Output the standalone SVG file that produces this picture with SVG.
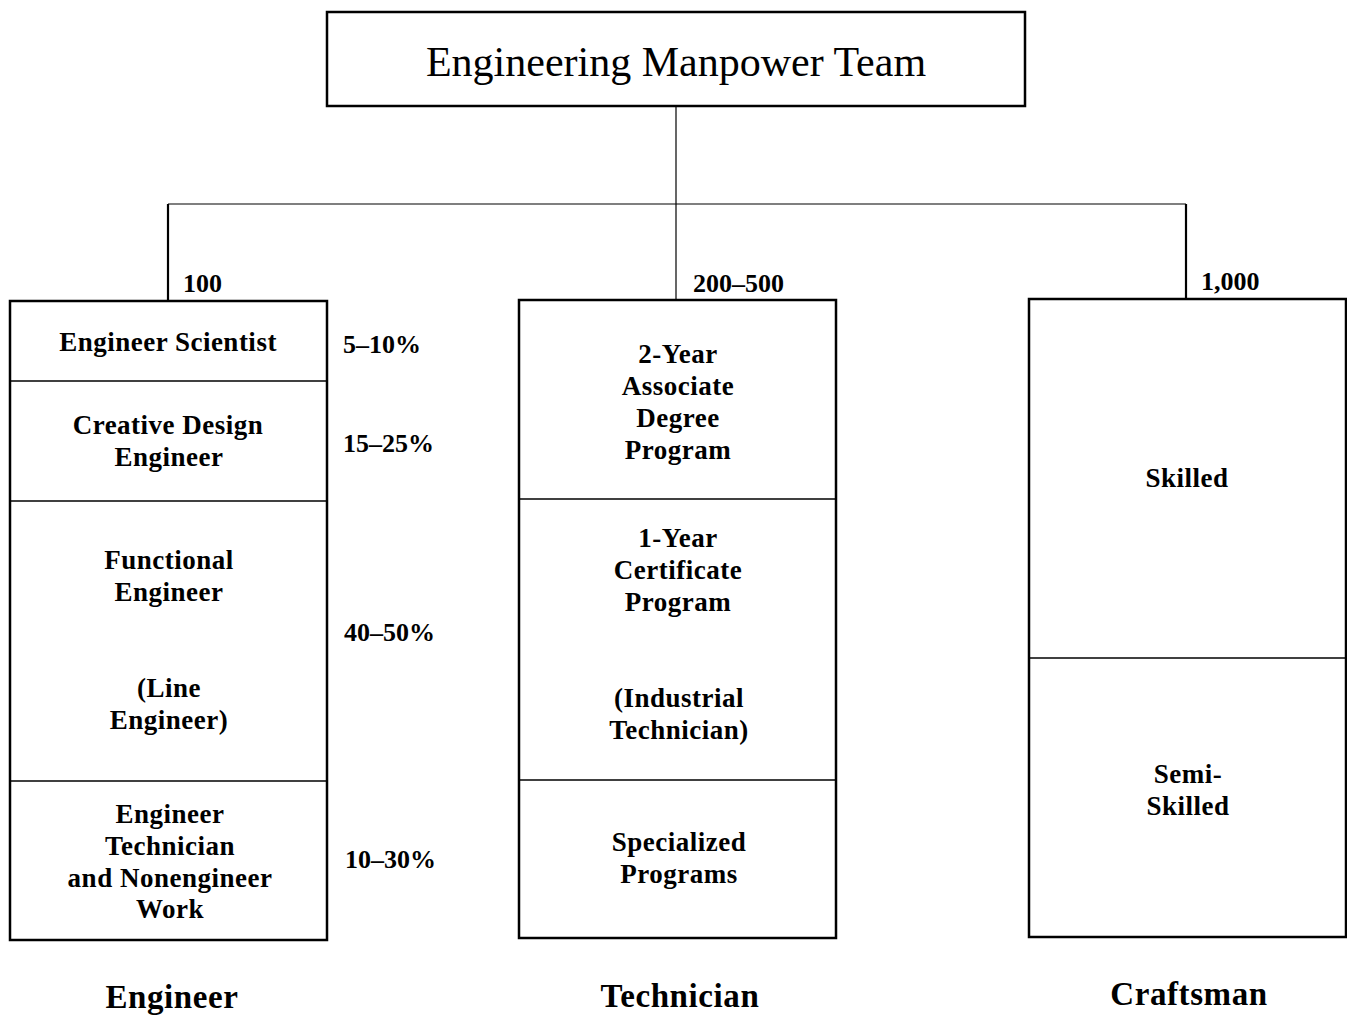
<svg xmlns="http://www.w3.org/2000/svg" width="1347" height="1018" viewBox="0 0 1347 1018">
<style>
text{font-family:"Liberation Serif","Times New Roman",serif;fill:#000;text-anchor:middle}
.t{font-size:27px;font-weight:bold;letter-spacing:0.5px}
.n{font-size:26px;text-anchor:start;font-weight:bold}
.h{font-size:42px}
.f{font-size:33px;font-weight:bold;letter-spacing:0.6px}
.box{fill:#fff;stroke:#000;stroke-width:2.5}
.div{stroke:#000;stroke-width:1.5}
.c{stroke:#000;fill:none}
</style>
<rect width="1347" height="1018" fill="#fff"/>
<g id="connectors">
<path class="c" stroke-width="1.2" d="M676,106 V300"/>
<path class="c" stroke-width="1.2" d="M168,204 H1186"/>
<path class="c" stroke-width="2.2" d="M168,204 V301"/>
<path class="c" stroke-width="2.2" d="M1186,204 V299"/>
</g>
<g id="top">
<rect class="box" x="327" y="12" width="698" height="94"/>
<text class="h" x="676" y="76">Engineering Manpower Team</text>
</g>
<g id="engineer">
<rect class="box" x="10" y="301" width="317" height="639"/>
<line class="div" x1="10" y1="381" x2="327" y2="381"/>
<line class="div" x1="10" y1="501" x2="327" y2="501"/>
<line class="div" x1="10" y1="781" x2="327" y2="781"/>
<text class="n" x="183" y="292">100</text>
<text class="t" x="168" y="351">Engineer Scientist</text>
<text class="t" x="168" y="434">Creative Design</text>
<text class="t" x="169" y="466">Engineer</text>
<text class="t" x="169" y="569">Functional</text>
<text class="t" x="169" y="601">Engineer</text>
<text class="t" x="169" y="697">(Line</text>
<text class="t" x="169" y="729">Engineer)</text>
<text class="t" x="170" y="823">Engineer</text>
<text class="t" x="170" y="855">Technician</text>
<text class="t" x="170" y="887">and Nonengineer</text>
<text class="t" x="170" y="918">Work</text>
<text class="n" x="343" y="353">5–10%</text>
<text class="n" x="343" y="452">15–25%</text>
<text class="n" x="344" y="641">40–50%</text>
<text class="n" x="345" y="868">10–30%</text>
<text class="f" x="172" y="1008">Engineer</text>
</g>
<g id="technician">
<rect class="box" x="519" y="300" width="317" height="638"/>
<line class="div" x1="519" y1="499" x2="836" y2="499"/>
<line class="div" x1="519" y1="780" x2="836" y2="780"/>
<text class="n" x="693" y="292">200–500</text>
<text class="t" x="678" y="363">2-Year</text>
<text class="t" x="678" y="395">Associate</text>
<text class="t" x="678" y="427">Degree</text>
<text class="t" x="678" y="459">Program</text>
<text class="t" x="678" y="547">1-Year</text>
<text class="t" x="678" y="579">Certificate</text>
<text class="t" x="678" y="611">Program</text>
<text class="t" x="679" y="707">(Industrial</text>
<text class="t" x="679" y="739">Technician)</text>
<text class="t" x="679" y="851">Specialized</text>
<text class="t" x="679" y="883">Programs</text>
<text class="f" x="680" y="1007">Technician</text>
</g>
<g id="craftsman">
<rect class="box" x="1029" y="299" width="317" height="638"/>
<line class="div" x1="1029" y1="658" x2="1346" y2="658"/>
<text class="n" x="1201" y="290">1,000</text>
<text class="t" x="1187" y="487">Skilled</text>
<text class="t" x="1188" y="783">Semi-</text>
<text class="t" x="1188" y="815">Skilled</text>
<text class="f" x="1189" y="1005">Craftsman</text>
</g>
</svg>
